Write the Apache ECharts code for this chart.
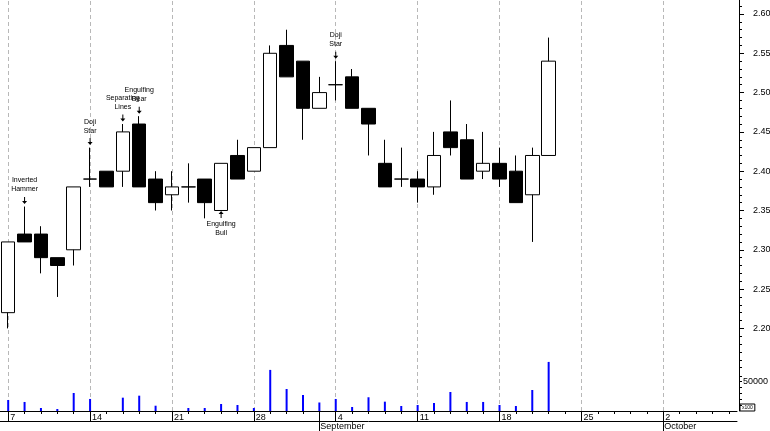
<!DOCTYPE html>
<html><head><meta charset="utf-8">
<script src="https://cdn.jsdelivr.net/npm/echarts@6/dist/echarts.min.js"></script>
<style>html,body{margin:0;padding:0;background:#fff}#c{width:770px;height:431px}</style>
</head><body><div id="c"></div>
<script>
// ---- data ----
const categories = [
  '2000-08-07','2000-08-08','2000-08-09','2000-08-10','2000-08-11',
  '2000-08-14','2000-08-15','2000-08-16','2000-08-17','2000-08-18',
  '2000-08-21','2000-08-22','2000-08-23','2000-08-24','2000-08-25',
  '2000-08-28','2000-08-29','2000-08-30','2000-08-31','2000-09-01',
  '2000-09-04','2000-09-05','2000-09-06','2000-09-07','2000-09-08',
  '2000-09-11','2000-09-12','2000-09-13','2000-09-14','2000-09-15',
  '2000-09-18','2000-09-19','2000-09-20','2000-09-21','2000-09-22',
  '2000-09-25','2000-09-26','2000-09-27','2000-09-28','2000-09-29',
  '2000-10-02','2000-10-03','2000-10-04','2000-10-05','2000-10-06'
];
const opens  = [2.22,2.32,2.32,2.29,2.30, 2.39,2.40,2.40,2.46,2.39, 2.37,2.38,2.39,2.35,2.42, 2.40,2.43,2.56,2.54,2.48, 2.51,2.52,2.48,2.41,2.39, 2.39,2.38,2.45,2.44,2.40, 2.41,2.40,2.37,2.42];
const closes = [2.31,2.31,2.29,2.28,2.38, 2.39,2.38,2.45,2.38,2.36, 2.38,2.38,2.36,2.41,2.39, 2.43,2.55,2.52,2.48,2.50, 2.51,2.48,2.46,2.38,2.39, 2.38,2.42,2.43,2.39,2.41, 2.39,2.36,2.42,2.54];
const lows   = [2.20,2.31,2.27,2.24,2.28, 2.38,2.38,2.38,2.38,2.35, 2.35,2.36,2.34,2.35,2.39, 2.40,2.43,2.52,2.44,2.48, 2.49,2.48,2.42,2.38,2.38, 2.36,2.37,2.42,2.39,2.39, 2.38,2.36,2.31,2.42];
const highs  = [2.31,2.355,2.33,2.29,2.38, 2.43,2.40,2.46,2.47,2.40, 2.40,2.41,2.39,2.41,2.44, 2.43,2.56,2.58,2.54,2.52, 2.54,2.53,2.48,2.44,2.43, 2.40,2.45,2.49,2.46,2.45, 2.43,2.42,2.43,2.57];
const volumes = [18800,15400,5100,3400,30700, 20500,0,22700,26100,9000, 0,5100,5100,11900,10200, 5100,70000,37500,27300,14500, 20500,6800,23400,15900,8500, 10200,13600,32400,15400,15400, 10200,8500,35800,83600];

const weekTicks = ['2000-08-07','2000-08-14','2000-08-21','2000-08-28','2000-09-04','2000-09-11','2000-09-18','2000-09-25','2000-10-02'];
const weekTickLabels = ['7','14','21','28','4','11','18','25','2'];
const monthTicks = ['2000-09-01','2000-10-02'];
const monthTickLabels = ['September','October'];
const priceLabels = [2.20,2.25,2.30,2.35,2.40,2.45,2.50,2.55,2.60];
const priceMinorTicks = [2.15,2.16,2.17,2.18,2.19,2.20,2.21,2.22,2.23,2.24,2.25,2.26,2.27,2.28,2.29,2.30,2.31,2.32,2.33,2.34,2.35,2.36,2.37,2.38,2.39,2.40,2.41,2.42,2.43,2.44,2.45,2.46,2.47,2.48,2.49,2.50,2.51,2.52,2.53,2.54,2.55,2.56,2.57,2.58,2.59,2.60,2.61];
const volumeTicks = [10000,20000,30000,40000,50000,60000];
const volumeLabels = [50000];
const volumeUnit = 'x100';
const annotations = [
  {date:'2000-08-08', text:'Inverted\nHammer', side:'above'},
  {date:'2000-08-14', text:'Doji\nStar', side:'above'},
  {date:'2000-08-16', text:'Separating\nLines', side:'above'},
  {date:'2000-08-17', text:'Engulfing\nBear', side:'above'},
  {date:'2000-08-24', text:'Engulfing\nBull', side:'below'},
  {date:'2000-09-04', text:'Doji\nStar', side:'above'}
];

// ---- build ----
const FONT = 'Liberation Sans, Arial, sans-serif';
const candleData = opens.map((o,i)=>[o, closes[i], lows[i], highs[i]]);
const downArrow = 'path://M2,0L3,0L3,4L5,4L2.5,7L0,4L2,4Z';
const upArrow = 'path://M2.5,0L5,3L3,3L3,7L2,7L2,3L0,3Z';
const markPoints = annotations.map(a=>{
  const i = categories.indexOf(a.date);
  const above = a.side === 'above';
  return {
    coord: [a.date, above ? highs[i] : lows[i]],
    symbol: above ? downArrow : upArrow,
    symbolSize: [5,7],
    symbolOffset: [0, above ? -6 : 4],
    itemStyle: {color:'#000'},
    label: {show:true, position: above ? 'top' : 'bottom', distance: above ? 3 : 2,
      formatter: a.text, fontSize:7, lineHeight:9, color:'#000', fontFamily:FONT}
  };
});

const baseX = {type:'category', gridIndex:0, data:categories, boundaryGap:true, position:'bottom',
  splitLine:{show:false}, axisPointer:{show:false}};
const isWeek = (i,v)=>weekTicks.indexOf(v) >= 0;
const isMonth = (i,v)=>monthTicks.indexOf(v) >= 0;

const chart = echarts.init(document.getElementById('c'), null, {renderer:'canvas'});
chart.setOption({
  animation:false,
  backgroundColor:'#fff',
  grid:{left:0, right:33, top:0, bottom:20, containLabel:false, outerBoundsMode:'none'},
  xAxis:[
    Object.assign({}, baseX, {
      axisLine:{show:true, lineStyle:{color:'#000', width:1}},
      axisTick:{show:true, alignWithLabel:true, interval:0, length:3, lineStyle:{color:'#000'}},
      axisLabel:{show:true, interval:isWeek, formatter:v=>weekTickLabels[weekTicks.indexOf(v)],
        align:'left', padding:[0,0,0,2], margin:2, fontSize:9, color:'#000', fontFamily:FONT}
    }),
    Object.assign({}, baseX, {
      axisLine:{show:false},
      axisTick:{show:true, alignWithLabel:true, interval:isWeek, length:10, lineStyle:{color:'#000'}},
      axisLabel:{show:false}
    }),
    Object.assign({}, baseX, {
      axisLine:{show:false},
      axisTick:{show:true, alignWithLabel:true, interval:isMonth, length:20, lineStyle:{color:'#000'}},
      axisLabel:{show:true, interval:isMonth, formatter:v=>monthTickLabels[monthTicks.indexOf(v)],
        align:'left', padding:[0,0,0,1], margin:11, fontSize:9, color:'#000', fontFamily:FONT}
    }),
    Object.assign({}, baseX, {
      offset:10,
      axisLine:{show:true, lineStyle:{color:'#000', width:1}},
      axisTick:{show:false}, axisLabel:{show:false}
    })
  ],
  yAxis:[
    {type:'value', gridIndex:0, position:'right', offset:2, min:2.0949, max:2.6178, scale:true,
      splitLine:{show:false},
      axisLine:{show:true, lineStyle:{color:'#000'}},
      axisTick:{show:true, inside:false, length:3, customValues:priceMinorTicks, lineStyle:{color:'#000'}},
      axisLabel:{show:true, customValues:priceLabels, formatter:v=>v.toFixed(2), margin:14,
        fontSize:9, color:'#000', fontFamily:FONT}
    },
    {type:'value', gridIndex:0, position:'right', offset:2, min:2.0949, max:2.6178, scale:true,
      splitLine:{show:false}, axisLine:{show:false},
      axisTick:{show:true, length:5, customValues:priceLabels, lineStyle:{color:'#000'}},
      axisLabel:{show:false}
    },
    {type:'value', gridIndex:0, position:'right', offset:2, min:0, max:700000,
      splitLine:{show:false}, axisLine:{show:false},
      axisTick:{show:true, length:3, customValues:volumeTicks, lineStyle:{color:'#000'}},
      axisLabel:{show:true, customValues:volumeLabels, formatter:v=>String(v), margin:4,
        fontSize:9, color:'#000', fontFamily:FONT}
    },
    {type:'value', gridIndex:0, position:'right', offset:2, min:0, max:700000,
      splitLine:{show:false}, axisLine:{show:false}, axisTick:{show:false},
      axisLabel:{show:true, customValues:[0], formatter:()=>volumeUnit, margin:1,
        verticalAlign:'bottom', fontSize:5, lineHeight:6, color:'#000', fontFamily:FONT,
        borderColor:'#000', borderWidth:1, padding:[1,2,0,2]}
    }
  ],
  series:[
    {type:'bar', name:'Volume', xAxisIndex:0, yAxisIndex:2, data:volumes, barWidth:2,
      itemStyle:{color:'#0000ff'}, z:2, silent:true,
      markLine:{silent:true, z:1, symbol:['none','none'], label:{show:false},
        lineStyle:{color:'#b8b8b8', type:[4,3], width:1}, emphasis:{disabled:true},
        data: weekTicks.map(d=>({xAxis:d}))}
    },
    {type:'candlestick', name:'Price', xAxisIndex:0, yAxisIndex:0, data:candleData, barWidth:14, z:3,
      itemStyle:{color:'#ffffff', color0:'#000000', borderColor:'#000000', borderColor0:'#000000',
        borderColorDoji:'#000000', borderWidth:1},
      emphasis:{disabled:true}, silent:true,
      markPoint:{silent:true, data:markPoints}
    }
  ]
});
</script>
</body></html>
